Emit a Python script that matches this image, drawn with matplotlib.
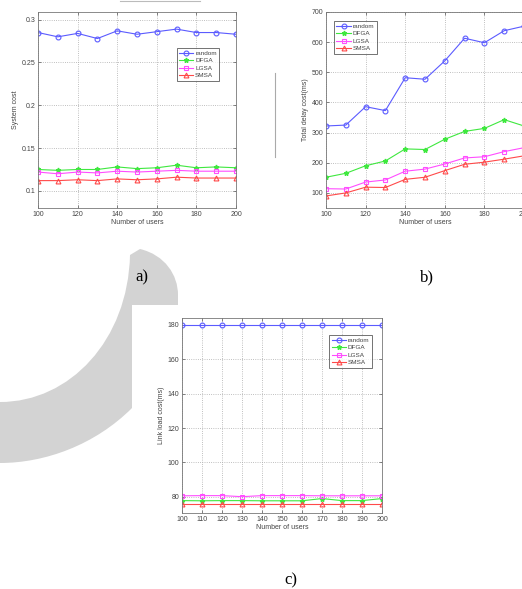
import matplotlib
matplotlib.use("Agg")
import matplotlib.pyplot as plt
from matplotlib.path import Path
import matplotlib.patches as mpatches

# Data
users = [100, 110, 120, 130, 140, 150, 160, 170, 180, 190, 200]
names = ["random", "DFGA", "LGSA", "SMSA"]

cost_random = [0.285, 0.280, 0.284, 0.278, 0.287, 0.283, 0.286, 0.289, 0.285, 0.285, 0.283]
cost_dfga = [0.125, 0.124, 0.125, 0.125, 0.128, 0.126, 0.127, 0.130, 0.127, 0.128, 0.127]
cost_lgsa = [0.122, 0.120, 0.122, 0.121, 0.123, 0.122, 0.123, 0.124, 0.123, 0.123, 0.123]
cost_smsa = [0.112, 0.112, 0.113, 0.112, 0.114, 0.113, 0.114, 0.116, 0.115, 0.115, 0.115]

delay_random = [322, 325, 386, 373, 482, 477, 538, 613, 598, 638, 653]
delay_dfga = [152, 165, 190, 206, 246, 244, 278, 304, 314, 343, 322]
delay_lgsa = [114, 113, 136, 143, 172, 179, 196, 216, 220, 237, 250]
delay_smsa = [90, 100, 119, 118, 145, 152, 174, 195, 202, 212, 223]

load_random = [180, 180, 180, 180, 180, 180, 180, 180, 180, 180, 180]
load_dfga = [77.8, 77.7, 77.8, 77.8, 77.7, 77.7, 77.7, 79.0, 77.8, 77.8, 79.0]
load_lgsa = [80.6, 80.7, 80.7, 80.1, 80.7, 80.7, 80.7, 80.6, 80.6, 80.6, 80.6]
load_smsa = [75.8, 75.8, 75.8, 75.8, 75.8, 75.8, 75.8, 75.8, 75.8, 75.8, 75.8]

colors = ["#5b5bff", "#3fe83f", "#ff4dff", "#ff4a4a"]
markers = ["o", "*", "s", "^"]

plt.rcParams["font.family"] = ["Liberation Sans", "DejaVu Sans"]

W, H = 522, 589
fig = plt.figure(figsize=(W / 100, H / 100), dpi=100)


def px(x, y):
    # pixel coords (top-left origin) to figure fraction
    return (x / W, 1 - y / H)


def make_axes(left, top, right, bottom):
    x0, y1 = px(left, top)
    x1, y0 = px(right, bottom)
    return fig.add_axes([x0, y0, x1 - x0, y1 - y0])


def draw(ax, series, xticks, yticks, ylim, ylabel, legend_pos, fmt=None):
    for vals, name, c, m in zip(series, names, colors, markers):
        if m == "*":
            ax.plot(users, vals, color=c, marker=m, markersize=3.5, lw=0.8, label=name)
        else:
            ax.plot(users, vals, color=c, marker=m, markersize=3.5, lw=0.8,
                    markerfacecolor="none", markeredgewidth=0.8, label=name)
    ax.set_xlim(100, 200)
    ax.set_ylim(*ylim)
    ax.set_xticks(xticks)
    ax.set_yticks(yticks)
    if fmt:
        ax.set_yticklabels([fmt(v) for v in yticks])
    ax.tick_params(direction="in", top=True, right=True, length=2.5, width=0.5,
                   labelsize=5, colors="#555555", labelcolor="#444444", pad=2)
    ax.grid(True, linestyle=":", color="#aaaaaa", linewidth=0.6)
    for s in ax.spines.values():
        s.set_color("#777777")
        s.set_linewidth(0.6)
    ax.set_xlabel("Number of users", fontsize=5, color="#444444", labelpad=1)
    ax.set_ylabel(ylabel, fontsize=5, color="#444444", labelpad=2)
    leg = ax.legend(loc="upper left", bbox_to_anchor=legend_pos, fontsize=4.6,
                    frameon=True, fancybox=False, handlelength=2.2,
                    borderpad=0.4, labelspacing=0.3, handletextpad=0.3,
                    borderaxespad=0)
    leg.get_frame().set_edgecolor("#333333")
    leg.get_frame().set_linewidth(0.6)
    for t in leg.get_texts():
        t.set_color("#444444")


# a) system cost
ax1 = make_axes(38, 12, 236, 208)
draw(ax1, [cost_random, cost_dfga, cost_lgsa, cost_smsa],
     [100, 120, 140, 160, 180, 200], [0.1, 0.15, 0.2, 0.25, 0.3], (0.08, 0.309),
     "System cost", (0.70, 0.816), fmt=lambda v: "%g" % v)

# b) total delay cost
ax2 = make_axes(326, 12, 524, 208)
draw(ax2, [delay_random, delay_dfga, delay_lgsa, delay_smsa],
     [100, 120, 140, 160, 180, 200], [100, 200, 300, 400, 500, 600, 700], (50, 700),
     "Total delay cost(ms)", (0.04, 0.954))

# c) link load cost
ax3 = make_axes(182, 318, 382, 513)
draw(ax3, [load_random, load_dfga, load_lgsa, load_smsa],
     users, [80, 100, 120, 140, 160, 180], (70.6, 184),
     "Link load cost(ms)", (0.735, 0.913))

# decorative gray hook shape behind
verts = [
    (140, 249),
    (165, 255), (178, 275), (178, 295),
    (178, 305),
    (132, 305),
    (132, 408),
    (95, 445), (45, 463), (0, 463),
    (0, 402),
    (70, 402), (128, 340), (130, 255),
    (140, 249),
]
codes = [Path.MOVETO,
         Path.CURVE4, Path.CURVE4, Path.CURVE4,
         Path.LINETO, Path.LINETO, Path.LINETO,
         Path.CURVE4, Path.CURVE4, Path.CURVE4,
         Path.LINETO,
         Path.CURVE4, Path.CURVE4, Path.CURVE4,
         Path.CLOSEPOLY]
shape = Path([px(x, y) for x, y in verts], codes)
fig.patches.append(mpatches.PathPatch(shape, facecolor="#d3d3d3", edgecolor="none",
                                      transform=fig.transFigure, zorder=0))

# stray lines from the page
fig.add_artist(plt.Line2D([120 / W, 200 / W], [1 - 1 / H, 1 - 1 / H], color="#bbbbbb", lw=0.8))
fig.add_artist(plt.Line2D([275 / W, 275 / W], [1 - 73 / H, 1 - 157 / H], color="#aaaaaa", lw=0.8))

# panel captions
for label, (x, y) in [("a)", (142, 277)), ("b)", (427, 277)), ("c)", (291, 580))]:
    fig.text(x / W, 1 - y / H, label, fontsize=12, family="Liberation Serif",
             ha="center", va="center", color="black")

fig.savefig("out.png", dpi=100)
